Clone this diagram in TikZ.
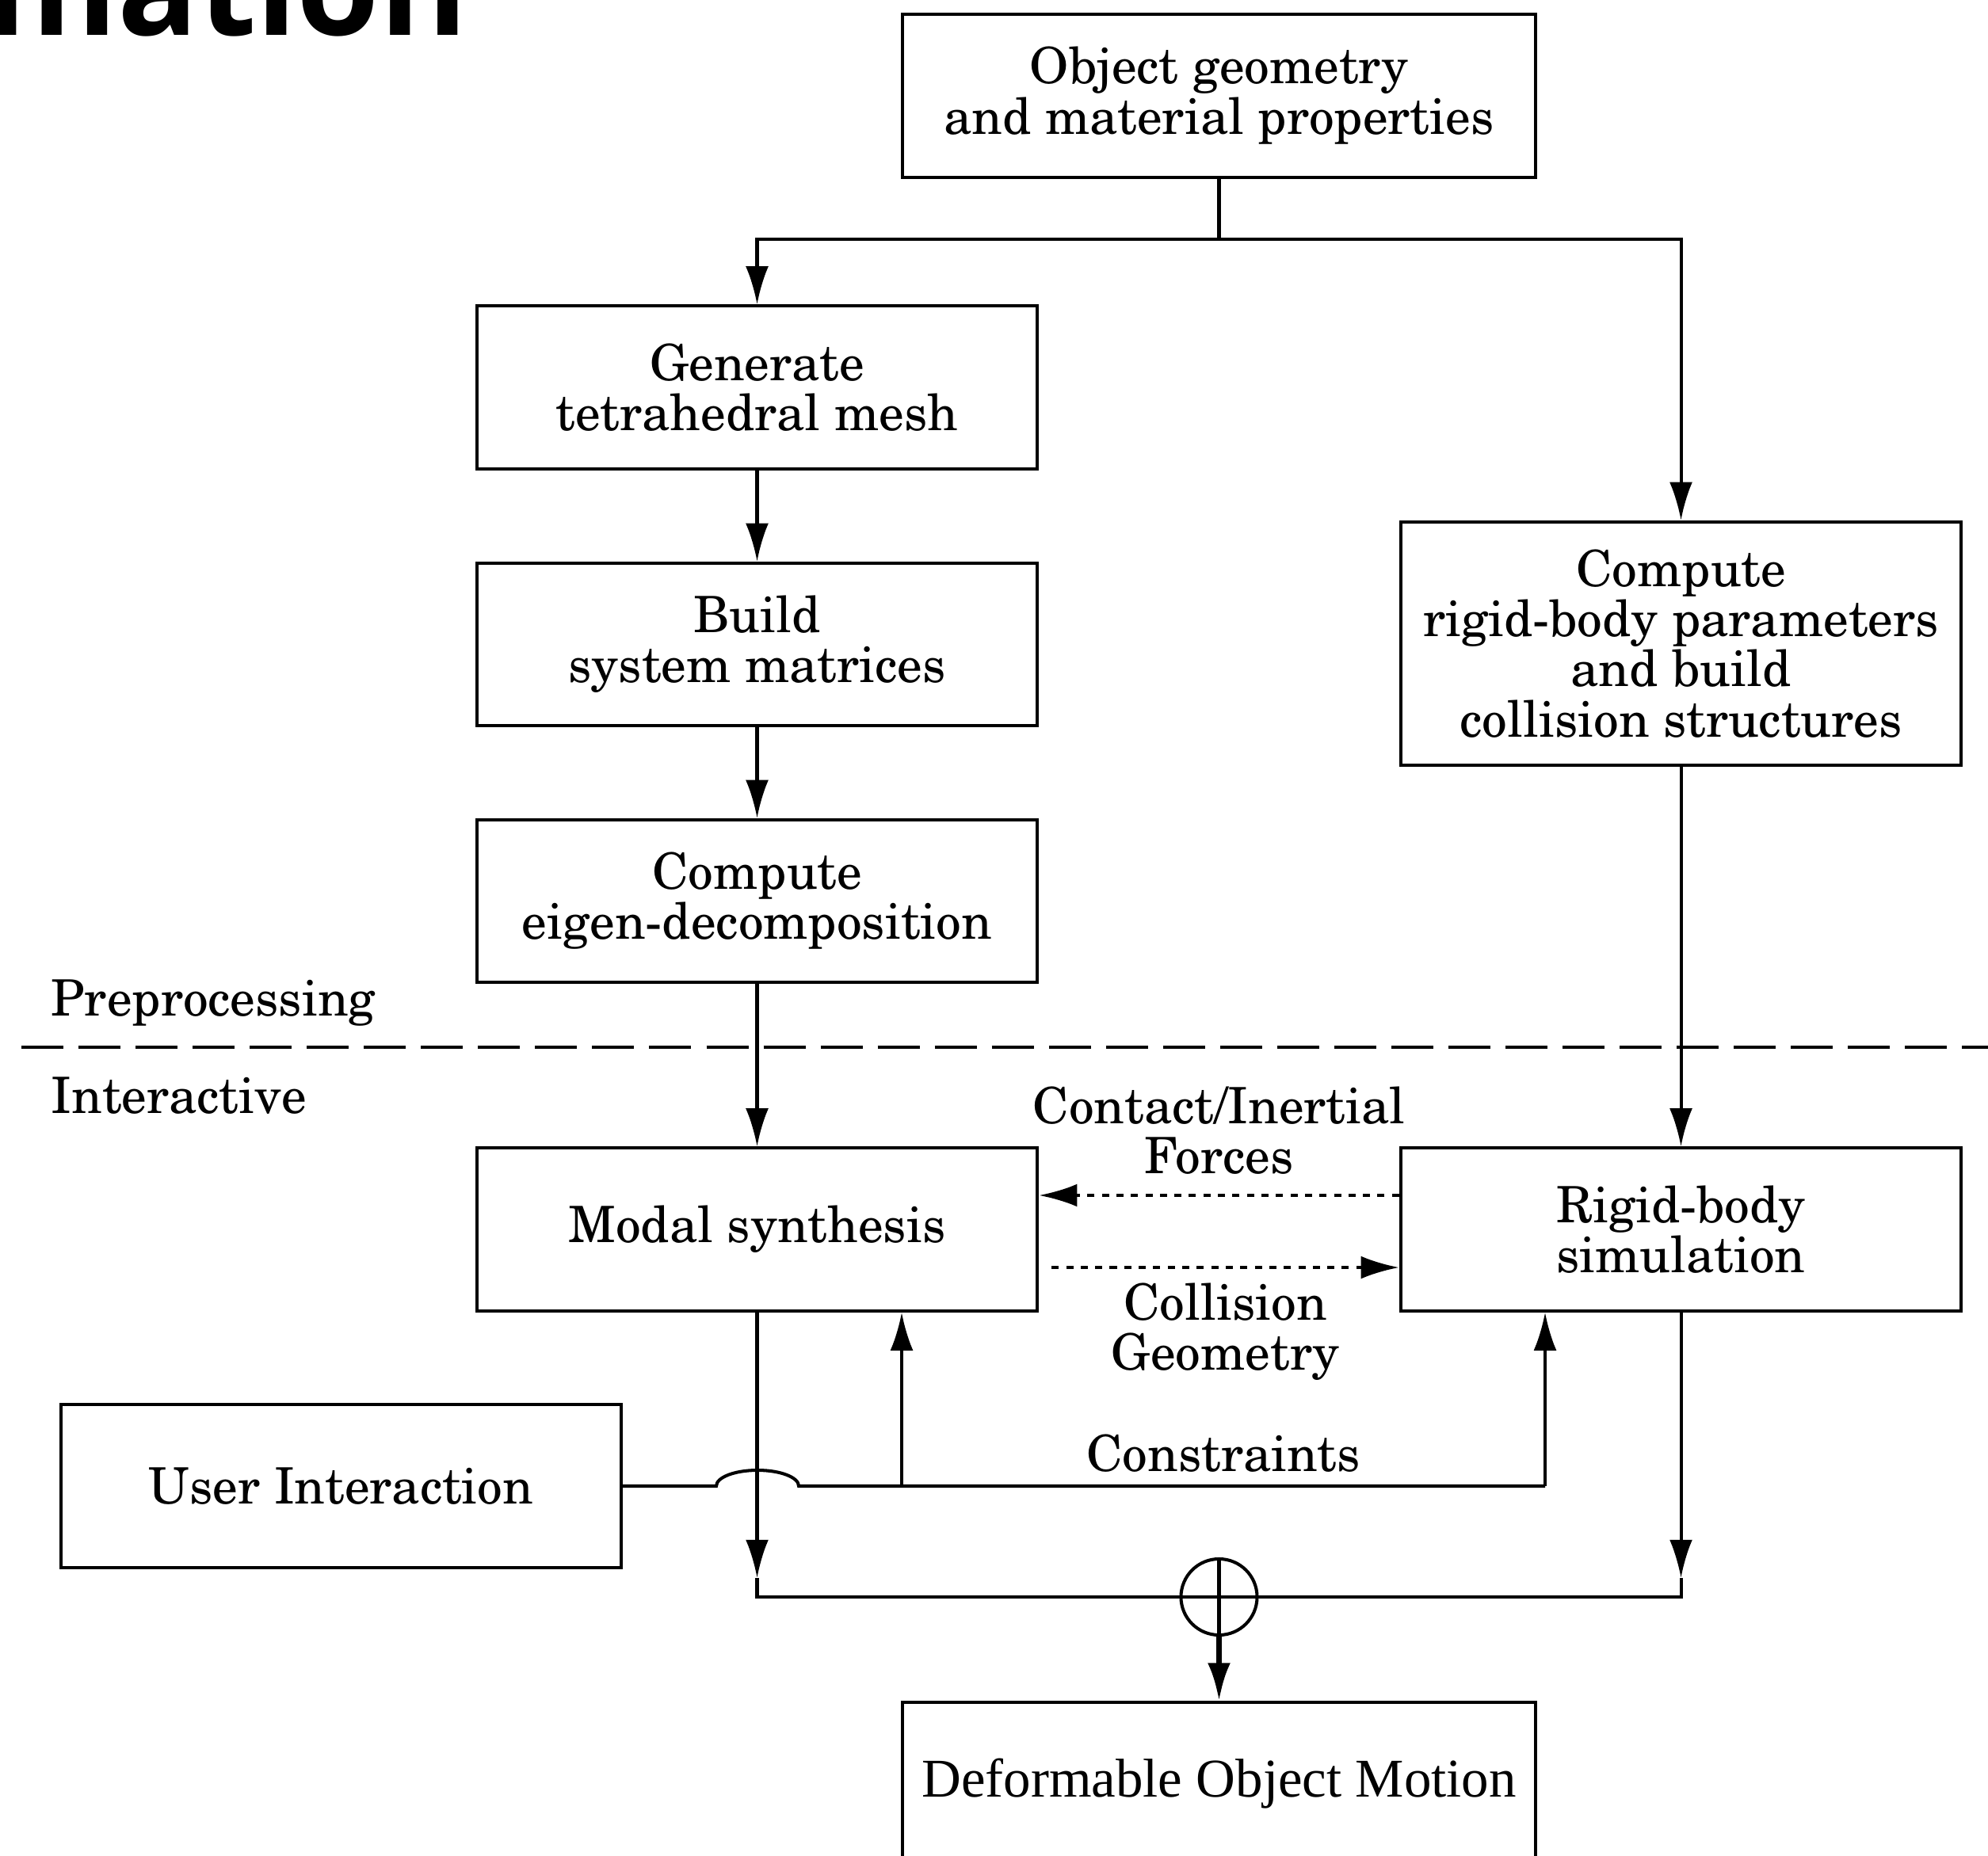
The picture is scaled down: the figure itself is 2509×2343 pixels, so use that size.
\documentclass[tikz,border=0pt]{standalone}
\usepackage[T1]{fontenc}
\usepackage{fontspec}
\newfontfamily\timesfont{Liberation Serif}
\newfontfamily\titlefont{Open Sans}
\IfFileExists{t1pnc.fd}
  {\newcommand\boxfont{\fontencoding{T1}\fontfamily{pnc}\fontsize{18}{18}\selectfont}}
  {\newcommand\boxfont{\rmfamily\fontsize{19.5}{18}\selectfont}}
\usetikzlibrary{arrows.meta,positioning}
\tikzset{%
wire/.style={line width=1.15pt},
box/.style={draw, wire, minimum width=70.7mm, minimum height=20.5mm, align=center},
arr/.style={wire, -{Latex[length=13.7pt,width=8.2pt]}},
dotarr/.style={arr, dash pattern=on 0.9mm off 0.93mm},
separator/.style={wire, dash pattern=on 5.3mm off 1.9mm},
}
\begin{document}
\begin{tikzpicture}[x=0.01cm,y=-0.01cm,font=\boxfont]
\useasboundingbox (0,0) rectangle (2509,2343);
% title, cut by the page edge
\node[font=\titlefont\bfseries\fontsize{48}{48}\selectfont, anchor=base east, inner sep=0] (title) at (591,45) {mation};

% preprocessing
\node[box, minimum width=79.9mm] (obj) at (1538.5,121) {Object geometry\\and material properties};
\node[box] (mesh) at (955.5,489) {Generate\\tetrahedral mesh};
\node[box] (matrices) at (955.5,813.5) {Build\\system matrices};
\node[box] (eigen) at (955.5,1137.5) {Compute\\eigen-decomposition};
\node[box, minimum height=30.7mm] (rigidparam) at (2121.5,812.5) {Compute\\rigid-body parameters\\and build\\collision structures};

\node[anchor=base west, inner sep=0] (pre) at (64,1282) {Preprocessing};
\node[anchor=base west, inner sep=0] (inter) at (64,1405) {Interactive};
\coordinate (sepL) at (27,1322);
\coordinate (sepR) at (2509,1322);
\draw[separator] (sepL) -- (sepR);

% interactive
\node[box] (modal) at (955.5,1552) {Modal synthesis};
\node[box] (rigidsim) at (2121.5,1552) {Rigid-body\\simulation};
\node[box] (user) at (430.5,1876) {User Interaction};
\node[box, minimum width=79.9mm, font=\timesfont\fontsize{19.6}{23}\selectfont] (motion) at (1538.5,2252) {Deformable Object Motion};
\node[draw, wire, circle, minimum size=9.6mm, inner sep=0] (sum) at (1538.5,2016) {};

% connectors
\coordinate (fork) at (1538.5,302);
\draw[wire] (obj) -- (fork);
\draw[arr] (fork) -| (mesh);
\draw[arr] (fork) -| (rigidparam);
\draw[arr] (mesh) -- (matrices);
\draw[arr] (matrices) -- (eigen);
\draw[arr] (eigen) -- (modal);
\draw[arr] (rigidparam) -- (rigidsim);

\draw[dotarr] ([yshift=4.3mm]rigidsim.west) -- node[above=1.3mm, align=center] (forces) {Contact/Inertial\\Forces} ([yshift=4.3mm]modal.east);
\draw[dotarr] ([xshift=1.6mm,yshift=-4.8mm]modal.east) -- node[below=0.6mm, align=center] (collgeo) {Collision\\Geometry} ([yshift=-4.8mm]rigidsim.west);

\coordinate (hopL) at (904,1876);
\coordinate (tapM) at (1138,1876);
\coordinate (tapR) at (1950,1876);
\draw[wire] (user.east) -- (hopL) arc[start angle=180, end angle=0, x radius=5.2mm, y radius=2mm] -- (tapR);
\draw[arr] (tapM) -- (tapM |- modal.south);
\draw[arr] (tapR) -- (tapR |- rigidsim.south);
\path (tapM) -- node[above=0.5mm] (constr) {Constraints} (tapR);

\coordinate (tipL) at (955.5,1992);
\coordinate (joinL) at (955.5,2016);
\coordinate (tipR) at (2121.5,1992);
\coordinate (joinR) at (2121.5,2016);
\draw[arr] (modal) -- (tipL);
\draw[arr] (rigidsim) -- (tipR);
\draw[wire] (tipL) -- (joinL) -- (joinR) -- (tipR);
\draw[wire] (sum.north) -- (sum.south);
\draw[arr, line width=2pt] (sum) -- (motion);
\end{tikzpicture}
\end{document}
